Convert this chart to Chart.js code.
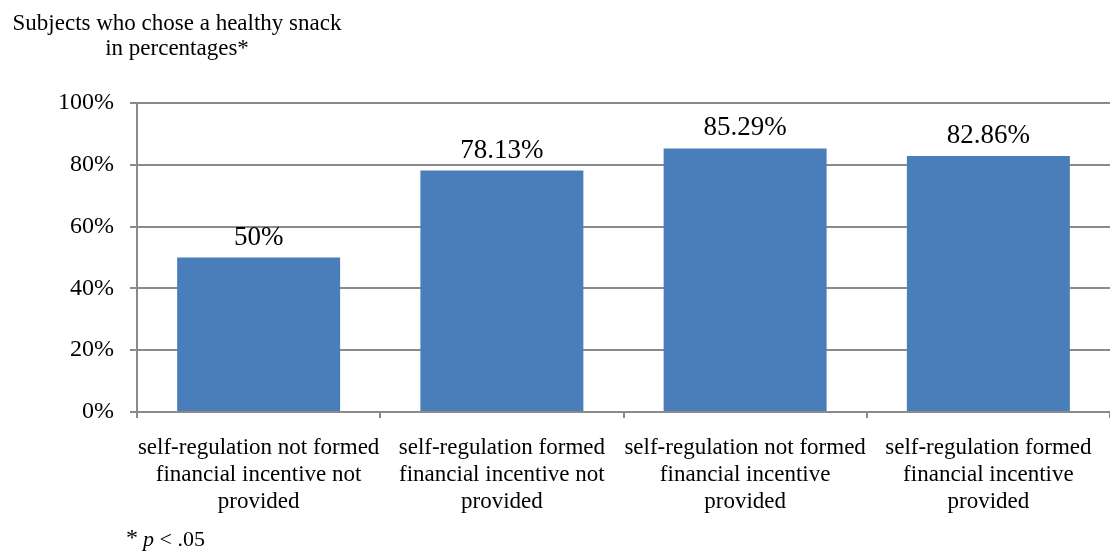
<!DOCTYPE html>
<html>
<head>
<meta charset="utf-8">
<script src="https://cdn.jsdelivr.net/npm/chart.js@4"></script>
<style>
html,body{margin:0;padding:0;background:#fff;}
canvas{display:block;}
</style>
</head>
<body>
<canvas id="c" width="1110" height="558"></canvas>
<script>
const categories = [
  ["self-regulation not formed", "financial incentive not", "provided"],
  ["self-regulation formed", "financial incentive not", "provided"],
  ["self-regulation not formed", "financial incentive", "provided"],
  ["self-regulation formed", "financial incentive", "provided"]
];
const healthyPct = [50, 78.13, 85.29, 82.86];
const titleLines = ["Subjects who chose a healthy snack", "in percentages*"];
const yTicks = [0, 20, 40, 60, 80, 100];

const FONT = "'Liberation Serif', 'Times New Roman', serif";
const GRID = '#8a8a8a';
const BAR = '#4a7ebb';

const extras = {
  id: 'extras',
  afterDatasetsDraw(chart) {
    const ctx = chart.ctx;
    ctx.save();
    const meta = chart.getDatasetMeta(0);
    ctx.fillStyle = '#000';
    ctx.font = '27px ' + FONT;
    ctx.textAlign = 'center';
    ctx.textBaseline = 'alphabetic';
    meta.data.forEach((bar, i) => {
      ctx.fillText(healthyPct[i] + '%', bar.x, bar.y - 13);
    });
    ctx.font = '23px ' + FONT;
    ctx.fillText(titleLines[0], 177, 30);
    ctx.fillText(titleLines[1], 177, 55);
    ctx.textAlign = 'left';
    let x = 126;
    const y = 546;
    ctx.font = '24px ' + FONT;
    ctx.fillText('*', x, y - 1);
    x += ctx.measureText('* ').width - 1;
    ctx.font = 'italic 22px ' + FONT;
    ctx.fillText('p', x, y);
    x += ctx.measureText('p').width;
    ctx.font = '22px ' + FONT;
    ctx.fillText(' < .05', x, y);
    ctx.restore();
  }
};

new Chart(document.getElementById('c'), {
  type: 'bar',
  data: {
    labels: categories,
    datasets: [{
      data: healthyPct,
      backgroundColor: BAR,
      borderWidth: 0,
      barPercentage: 0.67,
      categoryPercentage: 1
    }]
  },
  options: {
    responsive: false,
    animation: false,
    devicePixelRatio: 1,
    layout: { padding: { top: 103, left: 0, right: 0, bottom: 0 } },
    plugins: { legend: { display: false }, tooltip: { enabled: false }, title: { display: false } },
    scales: {
      x: {
        grid: { drawOnChartArea: false, drawTicks: true, tickLength: 6, color: GRID, lineWidth: 2 },
        border: { color: GRID, width: 2 },
        ticks: { font: { family: FONT, size: 23, lineHeight: 1.18 }, color: '#000', padding: 16, maxRotation: 0, autoSkip: false },
        afterFit: s => { s.height = 146; }
      },
      y: {
        min: 0, max: 100,
        afterBuildTicks: s => { s.ticks = yTicks.map(v => ({ value: v })); },
        grid: { color: GRID, lineWidth: 2, tickLength: 7 },
        border: { color: GRID, width: 2 },
        ticks: { font: { family: FONT, size: 24 }, color: '#000', padding: 16, callback: v => v + '%' },
        afterFit: s => { s.width = 137; }
      }
    }
  },
  plugins: [extras]
});
</script>
</body>
</html>
